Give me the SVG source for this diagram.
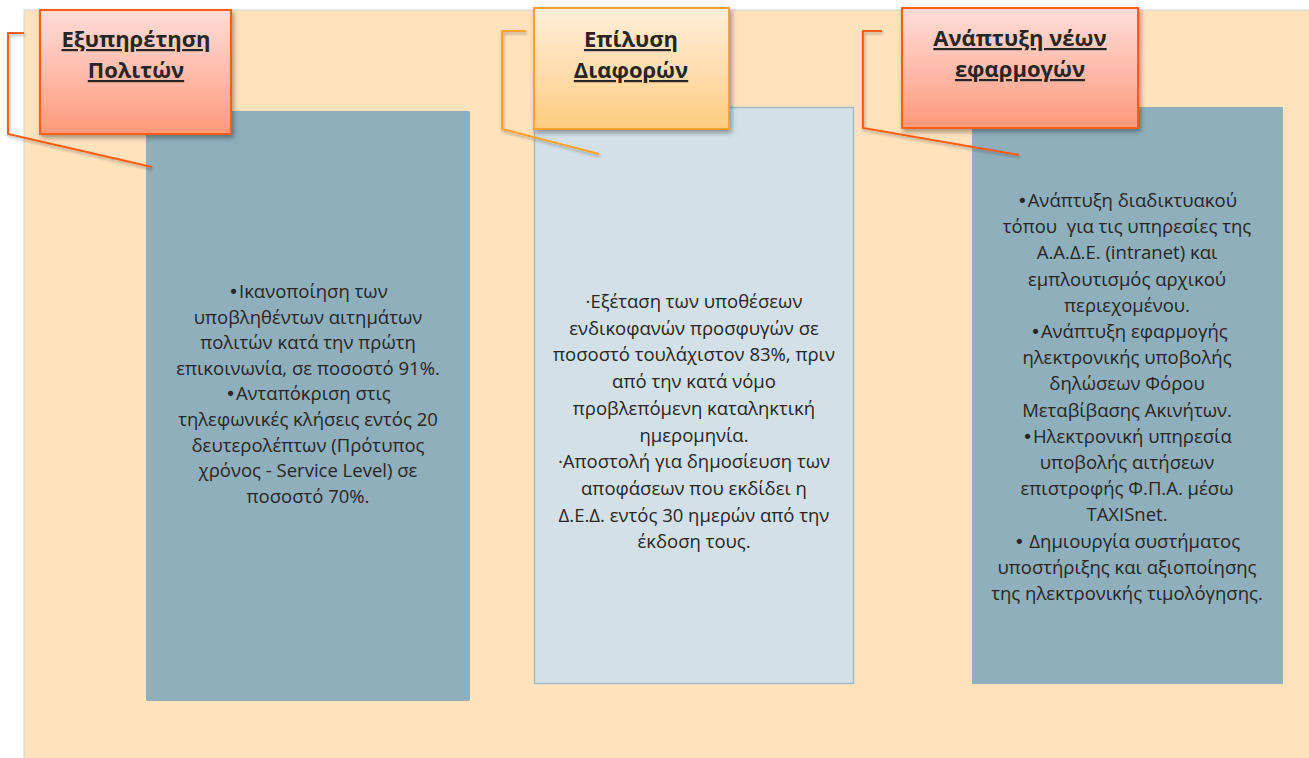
<svg xmlns="http://www.w3.org/2000/svg" width="1309" height="758" viewBox="0 0 1309 758">
<defs>
<linearGradient id="gRed" x1="0" y1="0" x2="0" y2="1">
<stop offset="0" stop-color="#FFDDD8"/>
<stop offset="0.5" stop-color="#FFBCAC"/>
<stop offset="1" stop-color="#FF9879"/>
</linearGradient>
<linearGradient id="gOr" x1="0" y1="0" x2="0" y2="1">
<stop offset="0" stop-color="#FFEEDB"/>
<stop offset="0.5" stop-color="#FFDDAE"/>
<stop offset="1" stop-color="#FFCC80"/>
</linearGradient>
<filter id="sh" x="-10%" y="-10%" width="130%" height="130%">
<feDropShadow dx="2" dy="3" stdDeviation="2.5" flood-color="#000" flood-opacity="0.35"/>
</filter>
<filter id="lsh" x="-10%" y="-10%" width="130%" height="130%">
<feDropShadow dx="1" dy="2" stdDeviation="1.5" flood-color="#000" flood-opacity="0.3"/>
</filter>
</defs>
<style>
.body{font-family:"Open Sans","Noto Sans","Liberation Sans",sans-serif;font-size:18.5px;fill:#262626;text-anchor:middle}
.b{font-family:"DejaVu Sans",sans-serif;font-size:18px}
.title{font-family:"Open Sans","Noto Sans","Liberation Sans",sans-serif;font-size:22px;font-weight:bold;fill:#262626;text-anchor:middle;text-decoration:underline}
.lead{fill:none;stroke-width:2;filter:url(#lsh)}
</style>
<rect x="0" y="0" width="1309" height="758" fill="#FFFFFF"/>
<g id="background">
<rect x="24" y="10" width="1290" height="760" fill="#FEE2BC" stroke="#C9D3DA" stroke-width="1"/>
</g>
<g id="panel1">
<rect x="146" y="111" width="324" height="590" rx="2" fill="#8FAFBC"/>
<text class="body" x="308" y="298"><tspan class="b">•</tspan>Ικανοποίηση των</text>
<text class="body" x="308" y="323.6">υποβληθέντων αιτημάτων</text>
<text class="body" x="308" y="349.2">πολιτών κατά την πρώτη</text>
<text class="body" x="308" y="374.8">επικοινωνία, σε ποσοστό 91%.</text>
<text class="body" x="308" y="400.4"><tspan class="b">•</tspan>Ανταπόκριση στις</text>
<text class="body" x="308" y="426">τηλεφωνικές κλήσεις εντός 20</text>
<text class="body" x="308" y="451.6">δευτερολέπτων (Πρότυπος</text>
<text class="body" x="308" y="477.2">χρόνος - Service Level) σε</text>
<text class="body" x="308" y="502.8">ποσοστό 70%.</text>
</g>
<g id="panel2">
<rect x="534.5" y="107.5" width="319" height="576" fill="#D3E0E7" stroke="#A3BAC6" stroke-width="1.5"/>
<text class="body" x="694" y="308">·Εξέταση των υποθέσεων</text>
<text class="body" x="694" y="334.7">ενδικοφανών προσφυγών σε</text>
<text class="body" x="694" y="361.4">ποσοστό τουλάχιστον 83%, πριν</text>
<text class="body" x="694" y="388.1">από την κατά νόμο</text>
<text class="body" x="694" y="414.8">προβλεπόμενη καταληκτική</text>
<text class="body" x="694" y="441.5">ημερομηνία.</text>
<text class="body" x="694" y="468.2">·Αποστολή για δημοσίευση των</text>
<text class="body" x="694" y="494.9">αποφάσεων που εκδίδει η</text>
<text class="body" x="694" y="521.6">Δ.Ε.Δ. εντός 30 ημερών από την</text>
<text class="body" x="694" y="548.3">έκδοση τους.</text>
</g>
<g id="panel3">
<rect x="972" y="107" width="311" height="577" fill="#8FAFBC"/>
<text class="body" x="1127" y="207"><tspan class="b">•</tspan>Ανάπτυξη διαδικτυακού</text>
<text class="body" x="1127" y="233.2" xml:space="preserve">τόπου  για τις υπηρεσίες της</text>
<text class="body" x="1127" y="259.4">Α.Α.Δ.Ε. (intranet) και</text>
<text class="body" x="1127" y="285.6">εμπλουτισμός αρχικού</text>
<text class="body" x="1127" y="311.8">περιεχομένου.</text>
<text class="body" x="1129" y="338"><tspan class="b">•</tspan>Ανάπτυξη εφαρμογής</text>
<text class="body" x="1127" y="364.2">ηλεκτρονικής υποβολής</text>
<text class="body" x="1127" y="390.4">δηλώσεων Φόρου</text>
<text class="body" x="1127" y="416.6">Μεταβίβασης Ακινήτων.</text>
<text class="body" x="1127" y="442.8"><tspan class="b">•</tspan>Ηλεκτρονική υπηρεσία</text>
<text class="body" x="1127" y="469">υποβολής αιτήσεων</text>
<text class="body" x="1127" y="495.2">επιστροφής Φ.Π.Α. μέσω</text>
<text class="body" x="1127" y="521.4">TAXISnet.</text>
<text class="body" x="1127" y="547.6" xml:space="preserve"><tspan class="b">•</tspan> Δημιουργία συστήματος</text>
<text class="body" x="1127" y="573.8">υποστήριξης και αξιοποίησης</text>
<text class="body" x="1127" y="600">της ηλεκτρονικής τιμολόγησης.</text>
</g>
<g id="connectors">
<polyline class="lead" points="24,33 8,33 8,134 152,167" stroke="#FF5B14"/>
<polyline class="lead" points="526,31 502,31 502,129 599,154" stroke="#FFA22E"/>
<polyline class="lead" points="882,31 863,31 863,128 1019,155" stroke="#FF5B14"/>
</g>
<g id="callout1">
<rect x="40" y="10" width="191" height="124" fill="url(#gRed)" stroke="#FF5B14" stroke-width="2" filter="url(#sh)"/>
<text class="title" x="136" y="47">Εξυπηρέτηση</text>
<text class="title" x="136" y="78">Πολιτών</text>
</g>
<g id="callout2">
<rect x="534" y="8" width="195" height="121" fill="url(#gOr)" stroke="#FFA22E" stroke-width="2" filter="url(#sh)"/>
<text class="title" x="631" y="47">Επίλυση</text>
<text class="title" x="631" y="78">Διαφορών</text>
</g>
<g id="callout3">
<rect x="902" y="8" width="236" height="120" fill="url(#gRed)" stroke="#FF5B14" stroke-width="2" filter="url(#sh)"/>
<text class="title" x="1020" y="46">Ανάπτυξη νέων</text>
<text class="title" x="1020" y="77">εφαρμογών</text>
</g>
</svg>
